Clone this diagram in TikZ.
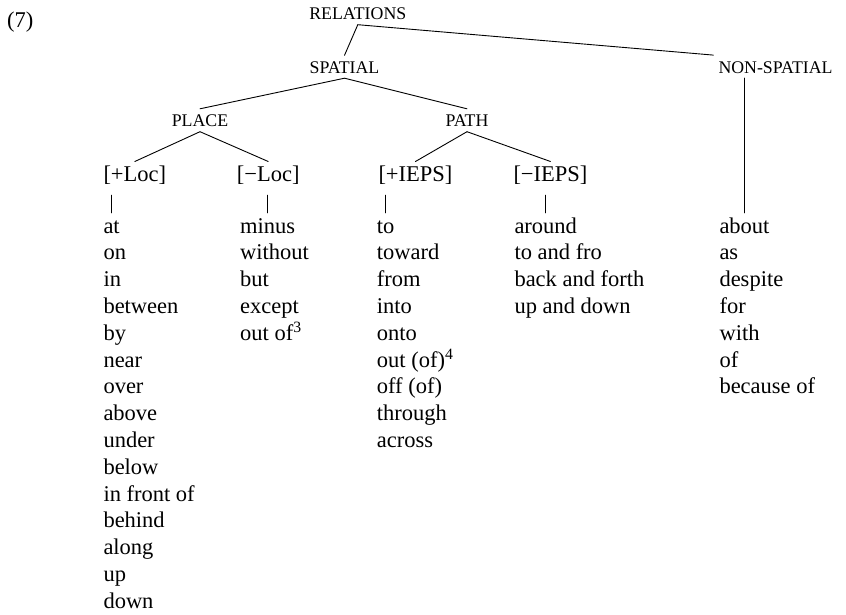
\documentclass[tikz,border=0pt]{standalone}
\usepackage{fontspec}
\setmainfont{Liberation Serif}
\begin{document}
\begin{tikzpicture}[x=1pt,y=-1pt,
  cat/.style={font=\fontsize{17.8}{20}\selectfont, inner sep=0pt,
    text height=18pt, text depth=4.5pt, anchor=base},
  feat/.style={font=\fontsize{22.5}{26}\selectfont, inner sep=0pt,
    text height=20.3pt, text depth=13pt, anchor=base west},
  word/.style={font=\fontsize{22.5}{26}\selectfont, inner sep=0pt,
    text height=20pt, text depth=6pt, anchor=base west},
  edge/.style={line width=0.9pt, line cap=round}]
\useasboundingbox (0,0) rectangle (846,615);

% example number
\node[word] (ex) at (7,28) {(7)};

% category labels
\node[cat] (rel)   at (357.8,20)  {RELATIONS};
\node[cat] (sp)    at (344.5,73.5) {SPATIAL};
\node[cat, anchor=base west] (non) at (718.3,73.3) {NON-SPATIAL};
\node[cat] (place) at (200,127)   {PLACE};
\node[cat] (path)  at (467,127)   {PATH};

% feature labels
\node[feat] (ploc)  at (103.3,182) {[+Loc]};
\node[feat] (mloc)  at (236.7,182) {[−Loc]};
\node[feat] (pieps) at (378.3,182) {[+IEPS]};
\node[feat] (mieps) at (513.3,182) {[−IEPS]};

% word lists
\foreach \w [count=\i from 0] in {at,on,in,between,by,near,over,above,under,below,in front of,behind,along,up,down}
  \node[word] (a\i) at (103.3,{233+\i*26.8}) {\w};
\foreach \w [count=\i from 0] in {minus,without,but,except,{out of\textsuperscript{3}}}
  \node[word] (b\i) at (240,{233+\i*26.8}) {\w};
\foreach \w [count=\i from 0] in {to,toward,from,into,onto,{out (of)\textsuperscript{4}},off (of),through,across}
  \node[word] (c\i) at (376.7,{233+\i*26.8}) {\w};
\foreach \w [count=\i from 0] in {around,to and fro,back and forth,up and down}
  \node[word] (d\i) at (514.3,{233+\i*26.8}) {\w};
\foreach \w [count=\i from 0] in {about,as,despite,for,with,of,because of}
  \node[word] (n\i) at (719.3,{233+\i*26.8}) {\w};

% columns of the short vertical stems
\coordinate (vA) at (111.7,0);
\coordinate (vB) at (267.7,0);
\coordinate (vC) at (385,0);
\coordinate (vD) at (545.7,0);
\coordinate (vE) at (744.3,0);

% tree branches
\draw[edge] (rel.south) -- (sp.north);
\draw[edge] (rel.south) -- ([xshift=-5pt]non.north west);
\draw[edge] (sp.south) -- (place.north);
\draw[edge] (sp.south) -- (path.north);
\draw[edge] (place.south) -- (ploc.north);
\draw[edge] (place.south) -- (mloc.north);
\draw[edge] (path.south) -- (pieps.north);
\draw[edge] (path.south) -- (mieps.north);

% stems down to the lists
\draw[edge] (ploc.south -| vA) -- (a0.north -| vA);
\draw[edge] (mloc.south -| vB) -- (b0.north -| vB);
\draw[edge] (pieps.south -| vC) -- (c0.north -| vC);
\draw[edge] (mieps.south -| vD) -- (d0.north -| vD);
\draw[edge] (non.south -| vE) -- (n0.north -| vE);
\end{tikzpicture}
\end{document}
